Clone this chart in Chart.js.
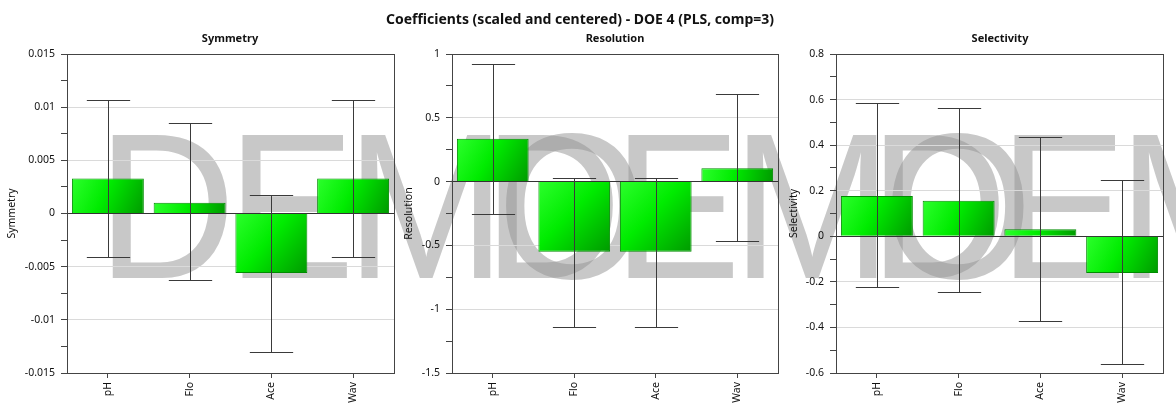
<!DOCTYPE html>
<html>
<head>
<meta charset="utf-8">
<script src="https://cdn.jsdelivr.net/npm/chart.js@4.4.1/dist/chart.umd.min.js"></script>
<style>
  body { margin: 0; background: #fff; width: 1176px; height: 407px; overflow: hidden; position: relative; font-family: "Noto Sans", sans-serif; }
  .wm { position: absolute; top: 103px; font: 207px/1 "Liberation Sans", sans-serif; color: rgba(145,145,145,.5); letter-spacing: -10px;
        transform: scaleX(.93); transform-origin: 0 0; white-space: nowrap; z-index: 0; }
  canvas { position: absolute; top: 0; z-index: 1; }
  .ttl { position: absolute; text-align: center; line-height: 1; font-weight: bold; color: #111; z-index: 2; white-space: nowrap; }
</style>
</head>
<body>
<div class="wm" style="left:97px">DEMO</div>
<div class="wm" style="left:483px">DEMO</div>
<div class="wm" style="left:869px">DEMO</div>

<div class="ttl" style="left:280px;width:600px;top:12px;font-size:14px">Coefficients (scaled and centered) - DOE 4 (PLS, comp=3)</div>
<div class="ttl" style="left:130px;width:200px;top:32px;font-size:11px">Symmetry</div>
<div class="ttl" style="left:515px;width:200px;top:32px;font-size:11px">Resolution</div>
<div class="ttl" style="left:900px;width:200px;top:32px;font-size:11px">Selectivity</div>

<canvas id="c1" width="400" height="407" style="left:0px"></canvas>
<canvas id="c2" width="400" height="407" style="left:380px"></canvas>
<canvas id="c3" width="406" height="407" style="left:770px"></canvas>

<script>
// categories (factors)
const factors = ['pH', 'Flo', 'Ace', 'Wav'];

// Symmetry: coefficient + conf. interval
const symCoef = [0.0033, 0.0010, -0.0056, 0.0033];
const symLow  = [-0.0041, -0.0063, -0.0130, -0.0041];
const symHigh = [0.0107, 0.0085, 0.0017, 0.0107];

// Resolution
const resCoef = [0.335, -0.55, -0.55, 0.105];
const resLow  = [-0.25, -1.14, -1.14, -0.465];
const resHigh = [0.92, 0.025, 0.025, 0.69];

// Selectivity
const selCoef = [0.177, 0.156, 0.031, -0.161];
const selLow  = [-0.224, -0.246, -0.373, -0.562];
const selHigh = [0.584, 0.562, 0.436, 0.247];

// axis ranges: [min, max, major step]
const symAxis = [-0.015, 0.015, 0.005];
const resAxis = [-1.5, 1, 0.5];
const selAxis = [-0.6, 0.8, 0.2];

const BAR_PCT = 0.88;
const FONT = { family: '"Noto Sans", sans-serif', size: 10.5 };

function fmt(v) { return String(parseFloat(v.toFixed(6))); }
function isMajor(v, step) { return Math.abs(v / step - Math.round(v / step)) < 1e-6; }

// gradient for each bar, light green top-left -> darker bottom-right
function barFill(c) {
  const chart = c.chart;
  if (!chart.chartArea || c.type !== 'data') return '#11dd11';
  const x = chart.scales.x, y = chart.scales.y;
  const v = c.raw;
  const cx = x.getPixelForValue(c.dataIndex);
  const w = (x.getPixelForValue(1) - x.getPixelForValue(0)) * BAR_PCT / 2;
  const top = y.getPixelForValue(Math.max(v, 0)), bot = y.getPixelForValue(Math.min(v, 0));
  const g = chart.ctx.createLinearGradient(cx - w, top, cx + w, bot);
  g.addColorStop(0, '#2cff2c');
  g.addColorStop(0.45, '#00ec00');
  g.addColorStop(1, '#009a00');
  return g;
}

const errorBars = {
  id: 'errorBars',
  afterDatasetsDraw(chart) {
    const { ctx, scales: { x, y } } = chart;
    const ds = chart.data.datasets[0];
    const cap = (x.getPixelForValue(1) - x.getPixelForValue(0)) * 0.53 / 2;
    ctx.save();
    ctx.strokeStyle = '#3a3a3a';
    ctx.lineWidth = 1;
    ds.errLow.forEach((lo, i) => {
      const px = Math.round(x.getPixelForValue(i)) + 0.5;
      const y1 = Math.round(y.getPixelForValue(lo)) + 0.5;
      const y2 = Math.round(y.getPixelForValue(ds.errHigh[i])) + 0.5;
      ctx.beginPath();
      ctx.moveTo(px, y1); ctx.lineTo(px, y2);
      ctx.moveTo(px - cap, y1); ctx.lineTo(px + cap, y1);
      ctx.moveTo(px - cap, y2); ctx.lineTo(px + cap, y2);
      ctx.stroke();
    });
    ctx.restore();
  }
};

const boxPlugin = {
  id: 'box',
  afterDraw(chart) {
    const a = chart.chartArea, c = chart.ctx;
    c.save();
    c.strokeStyle = '#444';
    c.lineWidth = 1;
    c.strokeRect(Math.round(a.left) + 0.5, Math.round(a.top) + 0.5, Math.round(a.right - a.left), Math.round(a.bottom - a.top));
    c.restore();
  }
};

function makePanel(id, yTitle, coef, low, high, axis, yW, rightPad, titlePad) {
  const [min, max, step] = axis;
  return new Chart(document.getElementById(id), {
    type: 'bar',
    data: {
      labels: factors,
      datasets: [{
        data: coef,
        errLow: low,
        errHigh: high,
        backgroundColor: barFill,
        borderColor: '#008c00',
        borderWidth: 1,
        barPercentage: BAR_PCT,
        categoryPercentage: 1,
      }],
    },
    options: {
      responsive: false,
      animation: false,
      layout: { padding: { top: 54, left: 0, right: rightPad, bottom: 0 } },
      plugins: { legend: { display: false }, tooltip: { enabled: false }, title: { display: false } },
      scales: {
        x: {
          offset: true,
          grid: { offset: false, drawOnChartArea: false, tickLength: 5, tickColor: '#444' },
          border: { color: '#444' },
          ticks: { minRotation: 90, maxRotation: 90, padding: 4, color: '#111', font: FONT },
          afterFit: (s) => { s.height = 34; },
        },
        y: {
          min, max,
          ticks: {
            stepSize: step / 2, autoSkip: false, padding: 6, color: '#111', font: FONT,
            callback: (v) => isMajor(v, step) ? fmt(v) : '',
          },
          grid: {
            tickLength: 6,
            tickColor: '#444',
            color: (c) => {
              const v = c.tick ? c.tick.value : 1;
              if (Math.abs(v) < 1e-9) return '#333';
              return isMajor(v, step) ? '#dadada' : 'rgba(0,0,0,0)';
            },
          },
          border: { color: '#444' },
          title: { display: true, text: yTitle, color: '#111', font: { family: '"Noto Sans", sans-serif', size: 10.5 }, padding: { top: titlePad, bottom: 0 } },
          afterFit: (s) => { s.width = yW; },
        },
      },
    },
    plugins: [errorBars, boxPlugin],
  });
}

makePanel('c1', 'Symmetry', symCoef, symLow, symHigh, symAxis, 67, 6, 6);
makePanel('c2', 'Resolution', resCoef, resLow, resHigh, resAxis, 72, 2, 23);
makePanel('c3', 'Selectivity', selCoef, selLow, selHigh, selAxis, 66, 13, 18);
</script>
</body>
</html>
